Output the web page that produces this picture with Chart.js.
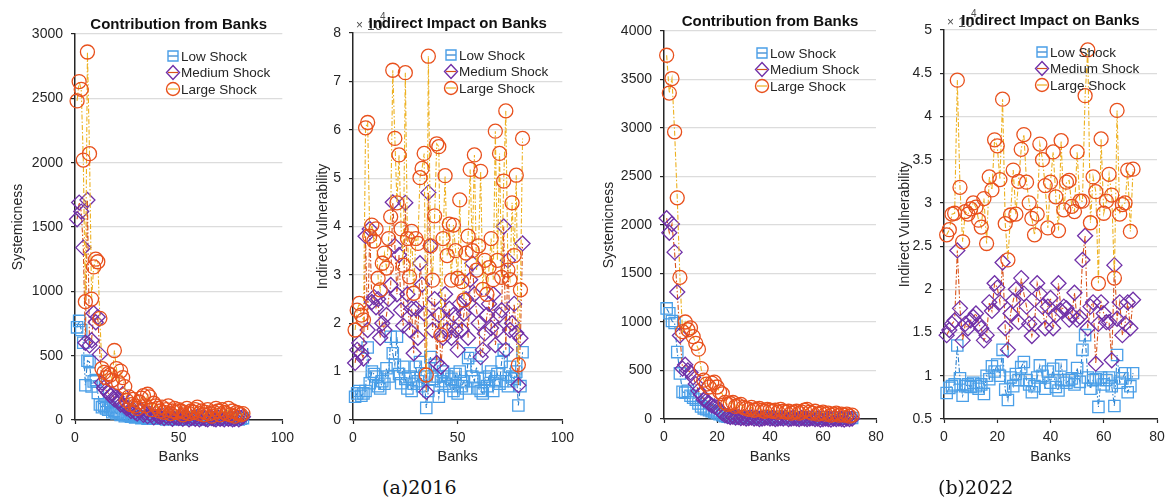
<!DOCTYPE html>
<html>
<head>
<meta charset="utf-8">
<title>Contribution from Banks / Indirect Impact on Banks</title>
<script src="https://cdn.jsdelivr.net/npm/chart.js@4.4.1/dist/chart.umd.min.js"></script>
<style>
  html, body { margin: 0; padding: 0; background: #fff; }
  body { width: 1173px; height: 497px; position: relative; overflow: hidden; }
  canvas { position: absolute; top: 0; }
  .cap { position: absolute; top: 476px; line-height: 22px; font-family: "DejaVu Serif", "Liberation Serif", serif; font-size: 19px; color: #111; }
</style>
</head>
<body>
<canvas id="sys2016" width="300" height="470" style="left:0px"></canvas>
<canvas id="ind2016" width="290" height="470" style="left:290px"></canvas>
<canvas id="sys2022" width="300" height="470" style="left:590px"></canvas>
<canvas id="ind2022" width="293" height="470" style="left:880px"></canvas>
<div class="cap" style="left:382px">(a)2016</div>
<div class="cap" style="left:938px">(b)2022</div>

<script>
// series names
const shockNames = ["Low Shock", "Medium Shock", "Large Shock"]

// 2016 - systemicness, banks 1..81
const lowSys2016 = [720, 770, 700, 600, 270, 460, 450, 260, 300, 310,
  210, 120, 100, 110, 90, 80, 100, 60, 70, 50,
  60, 40, 50, 30, 40, 35, 25, 30, 20, 25,
  30, 15, 20, 25, 10, 20, 15, 25, 10, 15,
  20, 10, 15, 5, 20, 10, 15, 10, 5, 15,
  10, 20, 5, 10, 15, 10, 5, 20, 10, 15,
  5, 10, 15, 10, 20, 5, 10, 15, 5, 10,
  20, 10, 5, 15, 10, 5, 10, 15, 5, 10,
  15]
const medSys2016 = [1560, 1690, 1620, 1340, 600, 1710, 580, 620, 830, 760,
  800, 510, 290, 250, 230, 210, 190, 200, 160, 180,
  150, 120, 200, 110, 90, 100, 70, 80, 60, 50,
  70, 80, 40, 60, 30, 50, 40, 20, 50, 30,
  25, 40, 15, 30, 20, 35, 10, 25, 20, 15,
  30, 10, 20, 25, 5, 15, 20, 10, 25, 5,
  15, 20, 10, 5, 25, 15, 10, 5, 20, 10,
  15, 5, 20, 10, 15, 5, 10, 20, 5, 15,
  25]
const largeSys2016 = [2480, 2630, 2570, 2020, 920, 2860, 2070, 940, 1190, 1250,
  1230, 790, 400, 370, 330, 360, 350, 310, 540, 400,
  290, 380, 330, 260, 150, 180, 120, 160, 110, 90,
  140, 170, 190, 110, 200, 180, 80, 130, 110, 90,
  70, 100, 60, 80, 110, 50, 70, 90, 60, 80,
  70, 40, 60, 90, 50, 70, 60, 80, 100, 50,
  70, 40, 60, 80, 50, 30, 60, 90, 70, 40,
  80, 60, 50, 90, 40, 70, 30, 60, 50, 40,
  50]

// 2016 - indirect vulnerability (x 10^4)
const lowInd2016 = [0.48, 0.55, 0.6, 0.5, 0.55, 0.6, 1.5, 0.76, 1.0, 0.95,
  0.9, 0.7, 0.65, 0.8, 0.75, 1.07, 0.9, 1.72, 1.38, 1.14,
  1.72, 0.95, 0.76, 1.1, 0.85, 0.65, 0.9, 0.6, 0.75, 1.1,
  0.8, 1.2, 0.7, 0.9, 0.25, 0.6, 1.3, 0.85, 1.14, 0.9,
  0.48, 0.8, 1.0, 0.75, 0.9, 0.7, 0.85, 0.6, 0.95, 0.55,
  1.0, 0.7, 0.8, 0.65, 1.28, 1.38, 0.9, 0.8, 1.1, 0.65,
  0.6, 0.55, 0.85, 0.7, 0.9, 1.0, 0.6, 0.8, 0.95, 0.75,
  1.2, 1.45, 0.8, 0.7, 1.1, 0.9, 0.85, 1.0, 0.3, 0.7,
  1.4]
const medInd2016 = [1.18, 1.45, 1.59, 1.38, 1.27, 3.8, 1.86, 3.95, 2.44, 2.54,
  2.33, 2.5, 1.7, 2.0, 1.86, 2.17, 2.5, 2.79, 4.5, 3.6,
  2.6, 3.41, 2.27, 1.95, 4.49, 2.6, 1.86, 2.3, 1.38, 2.3,
  1.7, 3.24, 2.8, 2.2, 0.58, 4.7, 3.6, 1.86, 2.5, 1.18,
  2.17, 1.1, 1.7, 2.6, 1.86, 2.3, 1.7, 2.17, 1.86, 1.45,
  2.4, 1.86, 2.2, 2.5, 1.7, 2.9, 3.24, 2.6, 2.27, 2.0,
  1.3, 1.45, 1.79, 2.17, 2.4, 1.9, 2.6, 1.55, 1.86, 2.17,
  2.27, 4.0, 1.45, 3.3, 1.86, 2.0, 2.4, 1.8, 0.72, 1.69,
  3.65]
const largeInd2016 = [1.86, 2.27, 2.41, 2.17, 2.07, 6.04, 6.15, 3.8, 4.03, 3.7,
  3.95, 2.93, 2.69, 3.24, 3.45, 3.14, 3.75, 4.2, 7.23, 5.82,
  4.49, 5.48, 3.95, 3.2, 7.18, 3.75, 2.96, 3.9, 2.62, 3.75,
  3.65, 5.01, 5.2, 5.51, 0.93, 7.52, 3.6, 2.89, 4.22, 5.71,
  5.65, 1.76, 3.75, 5.05, 3.4, 4.05, 2.89, 4.03, 3.5, 2.93,
  4.55, 2.86, 2.48, 3.45, 3.8, 5.18, 3.5, 5.48, 3.1, 3.6,
  5.14, 2.7, 3.3, 2.6, 3.15, 3.75, 2.9, 5.97, 3.3, 5.51,
  2.95, 4.94, 6.39, 3.1, 2.9, 4.49, 3.4, 5.06, 1.14, 2.69,
  5.82]

// 2022 - systemicness, banks 1..71
const lowSys2022 = [1140, 1090, 1010, 990, 690, 470, 280, 270, 290, 240,
  220, 200, 160, 130, 110, 100, 90, 80, 70, 60,
  50, 40, 30, 25, 20, 15, 20, 10, 15, 20,
  10, 15, 5, 10, 20, 15, 10, 5, 15, 10,
  20, 10, 5, 15, 10, 5, 10, 15, 5, 10,
  15, 10, 5, 10, 15, 5, 10, 5, 15, 10,
  5, 10, 15, 5, 10, 5, 10, 15, 5, 10,
  10]
const medSys2022 = [2070, 1920, 2010, 1720, 1310, 860, 520, 560, 500, 480,
  430, 360, 290, 250, 200, 190, 160, 140, 130, 120,
  90, 60, 40, 30, 20, 25, 15, 20, 10, 15,
  5, 10, 15, 5, 10, 0, 5, 10, 15, 5,
  10, 0, 5, 10, 5, 15, 0, 5, 10, 5,
  0, 10, 5, 0, 5, 10, 0, 5, -5, 0,
  5, 0, -5, 5, 0, 5, 0, -5, 5, 0,
  5]
const largeSys2022 = [3750, 3360, 3510, 2960, 2280, 1460, 900, 1000, 920, 940,
  850, 780, 720, 520, 400, 360, 330, 370, 380, 330,
  280, 260, 170, 150, 160, 170, 130, 140, 150, 120,
  110, 100, 120, 90, 100, 110, 90, 80, 100, 90,
  80, 90, 70, 100, 80, 70, 80, 60, 70, 80,
  60, 70, 90, 100, 70, 60, 80, 50, 60, 70,
  50, 60, 40, 50, 60, 40, 50, 40, 50, 30,
  40]

// 2022 - indirect vulnerability (x 10^4)
const lowInd2022 = [0.8, 0.86, 0.88, 0.9, 1.35, 0.97, 0.77, 0.88, 0.9, 0.87,
  0.92, 0.88, 0.85, 0.9, 0.79, 1.0, 0.96, 1.11, 1.05, 1.13,
  1.0, 1.3, 0.84, 0.72, 0.98, 0.88, 1.02, 0.95, 1.1, 1.16,
  0.95, 0.9, 0.81, 0.88, 0.98, 1.12, 1.0, 0.85, 1.05, 0.92,
  1.08, 0.87, 0.83, 1.12, 0.95, 0.92, 0.95, 0.97, 0.9, 1.09,
  0.93, 1.3, 1.47, 0.98, 0.85, 0.95, 0.96, 0.64, 0.98, 0.9,
  0.95, 0.98, 0.88, 0.65, 1.24, 0.92, 0.97, 1.03, 0.81, 0.88,
  1.03]
const medInd2022 = [1.47, 1.53, 1.6, 1.64, 2.45, 1.78, 1.41, 1.6, 1.55, 1.64,
  1.68, 1.72, 1.6, 1.55, 1.41, 1.47, 1.85, 1.75, 2.07, 2.02,
  1.85, 2.31, 1.55, 1.3, 1.72, 1.87, 2.0, 1.62, 2.13, 1.95,
  1.8, 1.6, 1.46, 1.6, 2.07, 1.95, 1.8, 1.55, 1.8, 1.9,
  1.55, 1.7, 2.07, 1.75, 1.8, 1.78, 1.65, 1.7, 1.96, 1.65,
  1.68, 2.34, 2.62, 1.55, 1.8, 1.85, 1.14, 1.6, 1.85, 1.72,
  1.62, 1.62, 1.18, 2.28, 1.66, 1.85, 1.47, 1.6, 1.85, 1.55,
  1.88]
const largeInd2022 = [2.63, 2.69, 2.87, 2.88, 4.42, 3.18, 2.55, 2.9, 2.87, 2.93,
  3.0, 2.95, 2.8, 2.72, 3.05, 2.53, 3.3, 3.15, 3.73, 3.66,
  3.27, 4.2, 2.76, 2.34, 2.86, 3.38, 2.87, 3.25, 3.62, 3.79,
  3.24, 3.0, 2.82, 2.63, 2.87, 3.68, 3.5, 3.2, 2.71, 3.24,
  3.59, 3.07, 2.68, 3.72, 2.92, 3.24, 3.26, 2.96, 2.9, 3.59,
  3.02, 3.02, 4.24, 4.77, 2.77, 3.3, 3.13, 2.07, 3.74, 2.88,
  3.02, 3.33, 3.09, 2.13, 4.07, 2.87, 2.98, 3.0, 3.38, 2.67,
  3.39]

// marker / line look for Low, Medium, Large
const shockStyles = [
  { marker: "#4a9fe8", line: "#2b7fcc", pointStyle: "rect", radius: 8, order: 3 },
  { marker: "#7030a8", line: "#d95319", pointStyle: "rectRot", radius: 7.5, order: 2 },
  { marker: "#e8501c", line: "#edb120", pointStyle: "circle", radius: 7, order: 1 },
]

const FONT = "'Liberation Sans', Arial, sans-serif"
const TEXT = "#262626"

// legend drawn inside the plot area, like the original figure
const shockLegend = {
  id: "shockLegend",
  afterDraw(chart) {
    const { ctx, chartArea } = chart
    const mx = chartArea.left + 98
    chart.data.datasets.forEach((ds, i) => {
      const y = chartArea.top + 22 + i * 16.5
      ctx.save()
      ctx.strokeStyle = ds.borderColor
      ctx.lineWidth = 1.2
      ctx.beginPath()
      ctx.moveTo(mx - 5, y)
      ctx.lineTo(mx + 5, y)
      ctx.stroke()
      ctx.strokeStyle = ds.pointBorderColor
      ctx.lineWidth = 1.4
      ctx.beginPath()
      if (ds.pointStyle === "rect") {
        ctx.rect(mx - 5, y - 5, 10, 10)
      } else if (ds.pointStyle === "rectRot") {
        ctx.moveTo(mx, y - 7)
        ctx.lineTo(mx + 6.5, y)
        ctx.lineTo(mx, y + 7)
        ctx.lineTo(mx - 6.5, y)
        ctx.closePath()
      } else {
        ctx.arc(mx, y, 6.5, 0, Math.PI * 2)
      }
      ctx.stroke()
      ctx.fillStyle = TEXT
      ctx.font = "13.5px " + FONT
      ctx.textAlign = "left"
      ctx.textBaseline = "middle"
      ctx.fillText(ds.label, mx + 8, y + 1)
      ctx.restore()
    })
  },
}

// "x10^4" multiplier at the top of the indirect panels
const exponentLabel = {
  id: "exponentLabel",
  beforeDraw(chart, args, opts) {
    if (!opts.show) return
    const { ctx, chartArea } = chart
    ctx.save()
    ctx.fillStyle = "#4d4d4d"
    ctx.textAlign = "left"
    ctx.textBaseline = "alphabetic"
    ctx.font = "12px " + FONT
    ctx.fillText("\u00d7", chartArea.left + 3, chartArea.top - 4)
    ctx.font = "14px " + FONT
    ctx.fillText("10", chartArea.left + 14, chartArea.top - 3)
    ctx.font = "10px " + FONT
    ctx.fillText("4", chartArea.left + 27, chartArea.top - 13)
    ctx.restore()
  },
}

function toPoints(values) {
  return values.map((v, i) => ({ x: i + 1, y: v }))
}

function makePanel(id, p) {
  const ctx = document.getElementById(id).getContext("2d")
  return new Chart(ctx, {
    type: "line",
    data: {
      datasets: p.series.map((values, i) => {
        const s = shockStyles[i]
        return {
          label: shockNames[i],
          data: toPoints(values),
          borderColor: s.line,
          borderWidth: 1.1,
          borderDash: [5, 2, 1.5, 2],
          pointStyle: s.pointStyle,
          pointRadius: s.radius,
          pointBorderColor: s.marker,
          pointBackgroundColor: "rgba(0,0,0,0)",
          pointBorderWidth: 1.3,
          tension: 0,
          fill: false,
          clip: false,
          order: s.order,
        }
      }),
    },
    options: {
      responsive: false,
      animation: false,
      devicePixelRatio: 1,
      layout: { padding: { left: 0, right: p.padRight, top: 0, bottom: 0 } },
      scales: {
        x: {
          type: "linear",
          min: 0,
          max: p.xMax,
          ticks: {
            stepSize: p.xStep,
            padding: 6,
            color: TEXT,
            font: { family: FONT, size: 14 },
            callback: (v) => v,
          },
          grid: {
            drawOnChartArea: false,
            drawTicks: true,
            tickLength: 4,
            tickColor: TEXT,
            tickWidth: 1.2,
          },
          border: { color: TEXT, width: 1.5 },
          title: {
            display: true,
            text: "Banks",
            color: TEXT,
            font: { family: FONT, size: 14.5 },
            padding: { top: 0, bottom: 4.5 },
          },
          afterFit: (scale) => { scale.height = p.xHeight },
        },
        y: {
          min: p.yMin,
          max: p.yMax,
          ticks: {
            stepSize: p.yStep,
            padding: 8,
            color: TEXT,
            font: { family: FONT, size: 14 },
            callback: (v) => v,
          },
          grid: {
            color: "#dcdcdc",
            lineWidth: 1.2,
            drawTicks: true,
            tickLength: 4,
            tickColor: TEXT,
            tickWidth: 1.2,
          },
          border: { color: TEXT, width: 1.5 },
          title: {
            display: true,
            text: p.yTitle,
            color: TEXT,
            font: { family: FONT, size: 14 },
            padding: { top: p.yTitlePad, bottom: 0 },
          },
          afterFit: (scale) => { scale.width = p.yWidth },
        },
      },
      plugins: {
        legend: { display: false },
        tooltip: { enabled: false },
        title: {
          display: true,
          fullSize: false,
          text: p.title,
          color: "#111",
          font: { family: FONT, size: 15, weight: "bold", lineHeight: 1.2 },
          padding: { top: p.titlePadTop, bottom: 0 },
        },
        exponentLabel: { show: p.exponent },
      },
    },
    plugins: [shockLegend, exponentLabel],
  })
}

makePanel("sys2016", {
  title: "Contribution from Banks",
  yTitle: "Systemicness",
  series: [lowSys2016, medSys2016, largeSys2016],
  xMax: 100, xStep: 50,
  yMin: 0, yMax: 3000, yStep: 500,
  yWidth: 75, yTitlePad: 10, padRight: 15,
  titlePadTop: 16, xHeight: 50, exponent: false,
})

makePanel("ind2016", {
  title: "Indirect Impact on Banks",
  yTitle: "Indirect Vulnerability",
  series: [lowInd2016, medInd2016, largeInd2016],
  xMax: 100, xStep: 50,
  yMin: 0, yMax: 8, yStep: 1,
  yWidth: 63, yTitlePad: 24.5, padRight: 16,
  titlePadTop: 15, xHeight: 50, exponent: true,
})

makePanel("sys2022", {
  title: "Contribution from Banks",
  yTitle: "Systemicness",
  series: [lowSys2022, medSys2022, largeSys2022],
  xMax: 80, xStep: 20,
  yMin: 0, yMax: 4000, yStep: 500,
  yWidth: 74, yTitlePad: 10.5, padRight: 14,
  titlePadTop: 13, xHeight: 51, exponent: false,
})

makePanel("ind2022", {
  title: "Indirect Impact on Banks",
  yTitle: "Indirect Vulnerability",
  series: [lowInd2022, medInd2022, largeInd2022],
  xMax: 80, xStep: 20,
  yMin: 0.5, yMax: 5, yStep: 0.5,
  yWidth: 64, yTitlePad: 16.5, padRight: 16,
  titlePadTop: 12, xHeight: 51, exponent: true,
})
</script>
</body>
</html>
